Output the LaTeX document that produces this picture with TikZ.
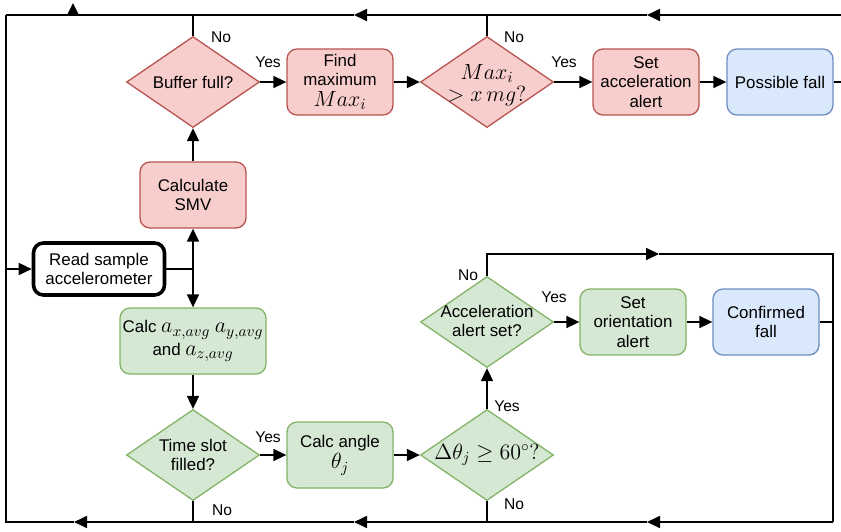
\RequirePackage{fix-cm}
\documentclass[tikz,border=0pt]{standalone}
\usepackage{fontspec}
\setmainfont{Liberation Sans}
\usetikzlibrary{shapes.geometric,arrows.meta}
\definecolor{redfill}{HTML}{F8CECC}
\definecolor{redline}{HTML}{B85450}
\definecolor{greenfill}{HTML}{D5E8D4}
\definecolor{greenline}{HTML}{82B366}
\definecolor{bluefill}{HTML}{DAE8FC}
\definecolor{blueline}{HTML}{6C8EBF}
% larger math inside the flowchart boxes
\newcommand\mth[1]{\scalebox{1.3}{$#1$}}
\begin{document}
\begin{tikzpicture}[x=1pt,y=-1pt,
  font=\fontsize{16.9}{19.5}\selectfont,
  box/.style={rectangle, rounded corners=10pt, minimum width=106pt, minimum height=66pt,
    inner sep=0pt, align=center, line width=1.3pt},
  dia/.style={diamond, minimum width=133pt, minimum height=91pt, inner sep=0pt, line width=1.3pt},
  redc/.style={fill=redfill, draw=redline},
  greenc/.style={fill=greenfill, draw=greenline},
  bluec/.style={fill=bluefill, draw=blueline},
  link/.style={line width=1.7pt},
  arr/.style={link, -{Triangle[length=13pt,width=12pt]}},
  lbl/.style={font=\fontsize{15.6}{18}\selectfont, inner sep=0pt},
  dtext/.style={align=center, inner sep=0pt}]
\useasboundingbox (0,0) rectangle (841,531);

% ---- top row: acceleration branch
\node[dia, redc] (bufd) at (193,82) {};
\node[dtext] (buft) at (bufd) {Buffer full?};
\node[box, redc] (findmax) at (340,82) {Find\\maximum\\[1pt]\mth{Max_i}};
\node[dia, redc] (maxd) at (487,82) {};
\node[dtext] (maxt) at (487,85) {\mth{Max_i}\\[3pt]\mth{>x\,mg?}};
\node[box, redc] (setacc) at (646,82) {Set\\acceleration\\alert};
\node[box, bluec] (pf) at (780,82) {Possible fall};

% ---- left column
\node[box, redc] (smv) at (193,195) {Calculate\\SMV};
\node[box, fill=white, draw=black, line width=3.6pt, minimum width=131pt, minimum height=52pt] (read) at (99,269) {Read sample\\accelerometer};
\node[box, greenc, minimum width=146pt] (calca) at (193,341) {Calc \mth{a_{x,avg}} \mth{a_{y,avg}}\\[3pt]and \mth{a_{z,avg}}};

% ---- bottom row: orientation branch
\node[dia, greenc] (tsd) at (193,455) {};
\node[dtext] (tst) at (tsd) {Time slot\\filled?};
\node[box, greenc] (calcang) at (340,455) {Calc angle\\[2pt]\mth{\theta_j}};
\node[dia, greenc] (dth) at (487,455) {};
\node[dtext] (dtht) at (dth) {\mth{\Delta\theta_j \geq 60^\circ?}};
\node[dia, greenc] (acc) at (487,322) {};
\node[dtext] (acct) at (487,321) {Acceleration\\alert set?};
\node[box, greenc] (setor) at (633,322) {Set\\orientation\\alert};
\node[box, bluec] (conf) at (766,322) {Confirmed\\fall};

% ---- routing points
\coordinate (tr) at (850,15);
\coordinate (ta) at (647,15);
\coordinate (tb) at (354,15);
\coordinate (tl) at (6,15);
\coordinate (br) at (833,522);
\coordinate (ba) at (647,522);
\coordinate (bb) at (354,522);
\coordinate (bc) at (74,522);
\coordinate (bl) at (6,522);
\coordinate (loopR) at (659,254);
\coordinate (j) at (193,269);
\coordinate (upA) at (73,3);

% ---- main flow
\draw[link] (read.east) -- (j);
\draw[arr] (j) -- (smv.south);
\draw[arr] (j) -- (calca.north);
\draw[arr] (smv) -- (bufd);
\draw[arr] (bufd) -- (findmax);
\draw[arr] (findmax) -- (maxd);
\draw[arr] (maxd) -- (setacc);
\draw[arr] (setacc) -- (pf);
\draw[arr] (calca) -- (tsd);
\draw[arr] (tsd) -- (calcang);
\draw[arr] (calcang) -- (dth);
\draw[arr] (dth) -- (acc);
\draw[arr] (acc) -- (setor);
\draw[arr] (setor) -- (conf);

% ---- return loop along the top
\draw[arr] (pf.east) -| (tr) -- (ta);
\draw[arr] (ta) -- (tb);
\draw[link] (tb) -- (tl);
\draw[arr] (tl) |- (read.west);
\draw[link] (bufd.north) -- (bufd.north |- tl);
\draw[link] (maxd.north) -- (maxd.north |- tl);
\fill (67,15) -- (79,15) -- (upA) -- cycle;

% ---- return loop along the bottom
\draw[link] (conf.east) -| (br);
\draw[arr] (acc.north) |- (loopR);
\draw[link] (loopR) -| (br);
\draw[arr] (br) -- (ba);
\draw[arr] (ba) -- (bb);
\draw[arr] (bb) -- (bc);
\draw[link] (bc) -- (bl) -- (tl);
\draw[link] (tsd.south) -- (tsd.south |- br);
\draw[link] (dth.south) -- (dth.south |- br);

% ---- branch labels
\node[lbl] at (221,37) {No};
\node[lbl] at (268,62) {Yes};
\node[lbl] at (514,37) {No};
\node[lbl] at (564,62) {Yes};
\node[lbl] at (468,275) {No};
\node[lbl] at (554,297) {Yes};
\node[lbl] at (268,437) {Yes};
\node[lbl] at (507,406) {Yes};
\node[lbl] at (222,510) {No};
\node[lbl] at (514,504) {No};
\end{tikzpicture}
\end{document}
